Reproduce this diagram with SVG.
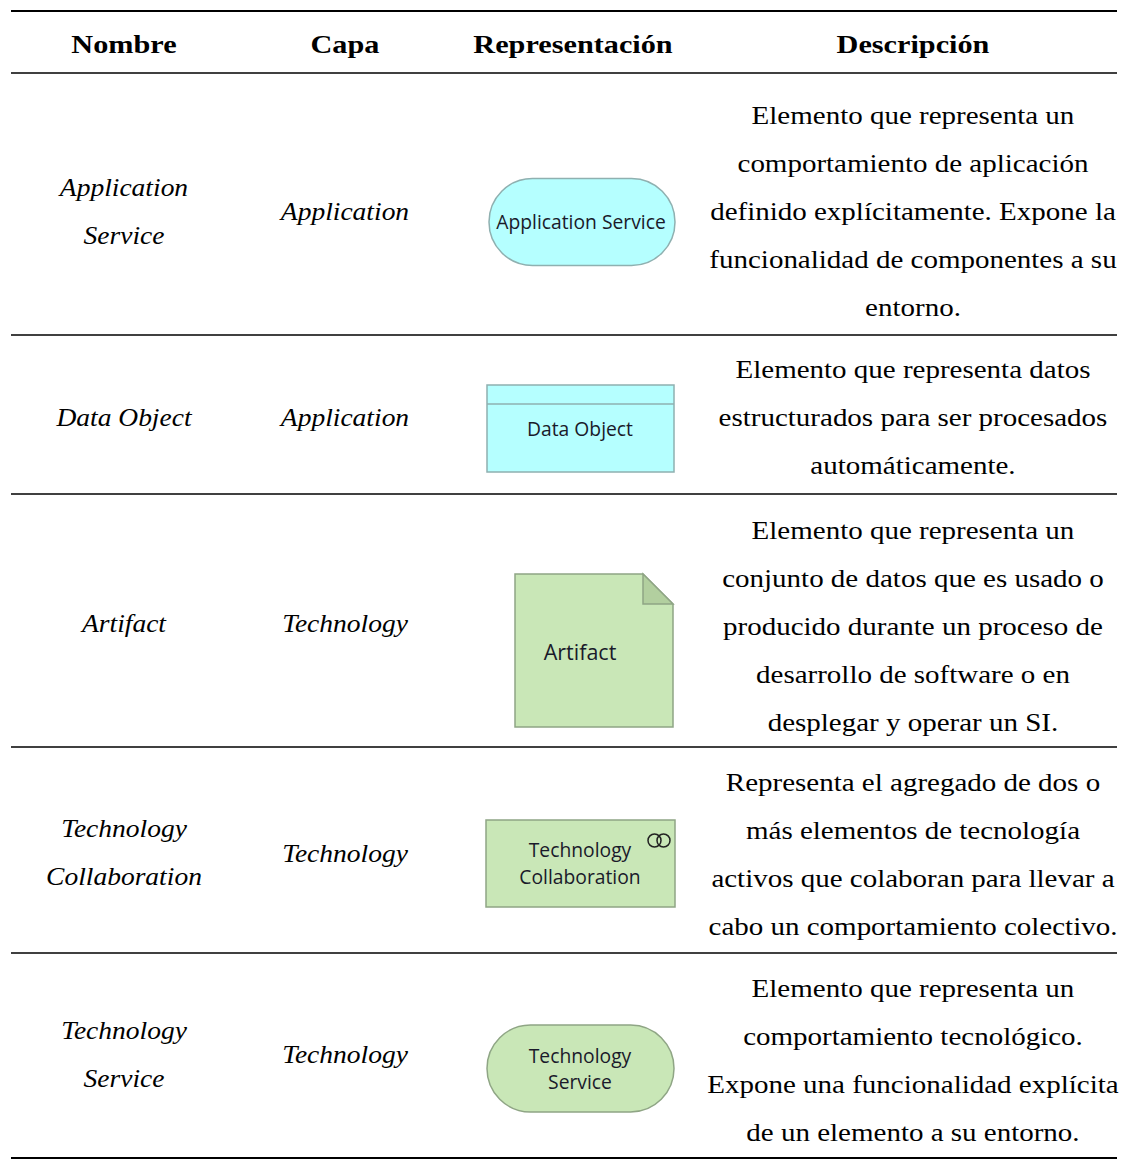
<svg xmlns="http://www.w3.org/2000/svg" width="1128" height="1160" viewBox="0 0 1128 1160">
<style>
.rule{stroke:#000;stroke-width:1.6}
.heavy{stroke:#000;stroke-width:2}
.hd{font-family:"Liberation Serif",serif;font-weight:bold;font-size:25px;fill:#000;text-anchor:middle}
.it{font-family:"Liberation Serif",serif;font-style:italic;font-size:25px;fill:#000;text-anchor:middle}
.rm{font-family:"Liberation Serif",serif;font-size:25px;fill:#000;text-anchor:middle}
.lbl{font-family:"Open Sans","Noto Sans",sans-serif;font-size:19.3px;fill:#1a1a2a;text-anchor:middle}
.app{fill:#b5ffff;stroke:#8fb0b0;stroke-width:1.5}
.tech{fill:#c9e7b7;stroke:#8fa585;stroke-width:1.5}
.fold{fill:#b2cf9f;stroke:#8fa585;stroke-width:1.5}
</style>
<g id="rules">
<line class="heavy" x1="11" y1="11" x2="1117" y2="11"/>
<line class="rule" x1="11" y1="73" x2="1117" y2="73"/>
<line class="rule" x1="11" y1="335" x2="1117" y2="335"/>
<line class="rule" x1="11" y1="494" x2="1117" y2="494"/>
<line class="rule" x1="11" y1="747" x2="1117" y2="747"/>
<line class="rule" x1="11" y1="953" x2="1117" y2="953"/>
<line class="heavy" x1="11" y1="1158" x2="1117" y2="1158"/>
</g>
<g id="header">
<text class="hd" x="124" y="53" transform="translate(124,0) scale(1.21,1) translate(-124,0)">Nombre</text>
<text class="hd" x="345" y="53" transform="translate(345,0) scale(1.21,1) translate(-345,0)">Capa</text>
<text class="hd" x="573" y="53" transform="translate(573,0) scale(1.21,1) translate(-573,0)">Representación</text>
<text class="hd" x="913" y="53" transform="translate(913,0) scale(1.21,1) translate(-913,0)">Descripción</text>
</g>
<g id="col-nombre" transform="translate(124,0) scale(1.1,1) translate(-124,0)">
<text class="it" x="124" y="196">Application</text>
<text class="it" x="124" y="244">Service</text>
<text class="it" x="124" y="426">Data Object</text>
<text class="it" x="124" y="632">Artifact</text>
<text class="it" x="124" y="837">Technology</text>
<text class="it" x="124" y="885">Collaboration</text>
<text class="it" x="124" y="1039">Technology</text>
<text class="it" x="124" y="1087">Service</text>
</g>
<g id="col-capa" transform="translate(345,0) scale(1.1,1) translate(-345,0)">
<text class="it" x="345" y="220">Application</text>
<text class="it" x="345" y="426">Application</text>
<text class="it" x="345" y="632">Technology</text>
<text class="it" x="345" y="862">Technology</text>
<text class="it" x="345" y="1063">Technology</text>
</g>
<g id="node-application-service">
<rect class="app" x="489" y="178.5" width="186" height="87" rx="43.5" ry="43.5"/>
<text class="lbl" x="581" y="229">Application Service</text>
</g>
<g id="node-data-object">
<rect class="app" x="487" y="385" width="187" height="87"/>
<line x1="487" y1="404" x2="674" y2="404" stroke="#8fb0b0" stroke-width="1.5"/>
<text class="lbl" x="580" y="436">Data Object</text>
</g>
<g id="node-artifact">
<path class="tech" d="M515,574 H643 L673,604 V727 H515 Z"/>
<path class="fold" d="M643,574 V604 H673 Z"/>
<text class="lbl" x="580" y="660" style="font-size:21.5px">Artifact</text>
</g>
<g id="node-technology-collaboration">
<rect class="tech" x="486" y="820" width="189" height="87"/>
<circle cx="654.5" cy="840.5" r="6.5" fill="none" stroke="#222" stroke-width="1.5"/>
<circle cx="663.5" cy="840.5" r="6.5" fill="none" stroke="#222" stroke-width="1.5"/>
<text class="lbl" x="580" y="857">Technology</text>
<text class="lbl" x="580" y="884">Collaboration</text>
</g>
<g id="node-technology-service">
<rect class="tech" x="487" y="1025" width="187" height="87" rx="43.5" ry="43.5"/>
<text class="lbl" x="580" y="1063">Technology</text>
<text class="lbl" x="580" y="1089">Service</text>
</g>
<g id="col-descripcion" transform="translate(913,0) scale(1.16,1) translate(-913,0)">
<text class="rm" x="913" y="124">Elemento que representa un</text>
<text class="rm" x="913" y="172">comportamiento de aplicación</text>
<text class="rm" x="913" y="220">definido explícitamente. Expone la</text>
<text class="rm" x="913" y="268">funcionalidad de componentes a su</text>
<text class="rm" x="913" y="316">entorno.</text>
<text class="rm" x="913" y="378">Elemento que representa datos</text>
<text class="rm" x="913" y="426">estructurados para ser procesados</text>
<text class="rm" x="913" y="474">automáticamente.</text>
<text class="rm" x="913" y="539">Elemento que representa un</text>
<text class="rm" x="913" y="587">conjunto de datos que es usado o</text>
<text class="rm" x="913" y="635">producido durante un proceso de</text>
<text class="rm" x="913" y="683">desarrollo de software o en</text>
<text class="rm" x="913" y="731">desplegar y operar un SI.</text>
<text class="rm" x="913" y="791">Representa el agregado de dos o</text>
<text class="rm" x="913" y="839">más elementos de tecnología</text>
<text class="rm" x="913" y="887">activos que colaboran para llevar a</text>
<text class="rm" x="913" y="935">cabo un comportamiento colectivo.</text>
<text class="rm" x="913" y="997">Elemento que representa un</text>
<text class="rm" x="913" y="1045">comportamiento tecnológico.</text>
<text class="rm" x="913" y="1093">Expone una funcionalidad explícita</text>
<text class="rm" x="913" y="1141">de un elemento a su entorno.</text>
</g>
</svg>
